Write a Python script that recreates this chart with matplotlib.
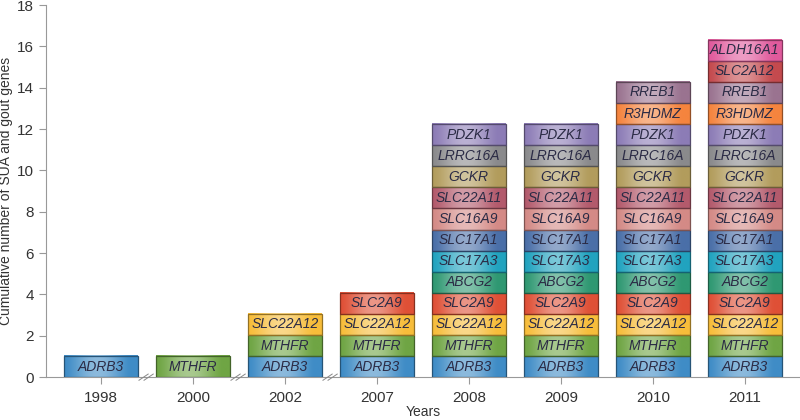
import numpy as np
import matplotlib
matplotlib.use("Agg")
import matplotlib.pyplot as plt
from matplotlib.colors import to_rgb

plt.rcParams["font.family"] = ["Liberation Sans", "DejaVu Sans"]

years = ["1998", "2000", "2002", "2007", "2008", "2009", "2010", "2011"]

stacks = [
    ["ADRB3"],
    ["MTHFR"],
    ["ADRB3", "MTHFR", "SLC22A12"],
    ["ADRB3", "MTHFR", "SLC22A12", "SLC2A9"],
    ["ADRB3", "MTHFR", "SLC22A12", "SLC2A9", "ABCG2", "SLC17A3", "SLC17A1",
     "SLC16A9", "SLC22A11", "GCKR", "LRRC16A", "PDZK1"],
    ["ADRB3", "MTHFR", "SLC22A12", "SLC2A9", "ABCG2", "SLC17A3", "SLC17A1",
     "SLC16A9", "SLC22A11", "GCKR", "LRRC16A", "PDZK1"],
    ["ADRB3", "MTHFR", "SLC22A12", "SLC2A9", "ABCG2", "SLC17A3", "SLC17A1",
     "SLC16A9", "SLC22A11", "GCKR", "LRRC16A", "PDZK1", "R3HDMZ", "RREB1"],
    ["ADRB3", "MTHFR", "SLC22A12", "SLC2A9", "ABCG2", "SLC17A3", "SLC17A1",
     "SLC16A9", "SLC22A11", "GCKR", "LRRC16A", "PDZK1", "R3HDMZ", "RREB1",
     "SLC2A12", "ALDH16A1"],
]

# axis breaks sit between these bar pairs
breaks = [0.5, 1.5, 2.5]

colors = {
    "ADRB3": "#3f8cc6",
    "MTHFR": "#6fa544",
    "SLC22A12": "#f7bd3a",
    "SLC2A9": "#df5036",
    "ABCG2": "#2f9872",
    "SLC17A3": "#21a3bf",
    "SLC17A1": "#4a6fa8",
    "SLC16A9": "#d48a86",
    "SLC22A11": "#b35a6c",
    "GCKR": "#b29c5c",
    "LRRC16A": "#8a8a8c",
    "PDZK1": "#8c7cb6",
    "R3HDMZ": "#f5843e",
    "RREB1": "#9a7390",
    "SLC2A12": "#c44a4e",
    "ALDH16A1": "#e05a9c",
}

seg_h = 1.02
width = 0.8

fig = plt.figure(figsize=(8, 4.2), dpi=100)
ax = fig.add_axes([0.057, 0.102, 0.943, 0.886])

def shade(c, t):
    r = np.array(to_rgb(c))
    light = 0.4 * np.sin(np.pi * np.clip(t * 1.1, 0, 1)) ** 1.5
    return r + (1 - r) * light[:, None]

t = np.linspace(0, 1, 60)
for i, genes in enumerate(stacks):
    for j, g in enumerate(genes):
        x0 = i - width / 2
        y0 = j * seg_h
        grad = shade(colors[g], t)[None, :, :]
        ax.imshow(grad, extent=(x0, x0 + width, y0, y0 + seg_h), aspect="auto",
                  interpolation="bilinear", zorder=2)
        edge = np.array(to_rgb(colors[g])) * 0.6
        ax.add_patch(plt.Rectangle((x0, y0), width, seg_h, fill=False,
                                   edgecolor=edge, lw=0.9, zorder=3))
        ax.text(i, y0 + seg_h / 2, g, ha="center", va="center", style="italic",
                fontsize=10, color="#2b2b45", zorder=4)

for b in breaks:
    for dx in (-0.035, 0.02):
        ax.plot([b + dx - 0.05, b + dx + 0.05], [-0.15, 0.15], color="#888888",
                lw=0.7, clip_on=False, zorder=5)

ax.set_xlim(-0.6, 7.6)
ax.set_ylim(0, 18)
ax.set_yticks(range(0, 19, 2))
ax.set_xticks(range(len(years)))
ax.set_xticklabels(years)
for s in ("top", "right"):
    ax.spines[s].set_visible(False)
for s in ("left", "bottom"):
    ax.spines[s].set_color("#999999")
ax.tick_params(colors="#999999", labelcolor="#333333", labelsize=11, length=5)
ax.tick_params(axis="x", pad=5)
ax.set_ylabel("Cumulative number of SUA and gout genes", fontsize=10,
              color="#333333", labelpad=3)
ax.set_xlabel("Years", fontsize=10, color="#333333", labelpad=0)

fig.savefig("out.png")
